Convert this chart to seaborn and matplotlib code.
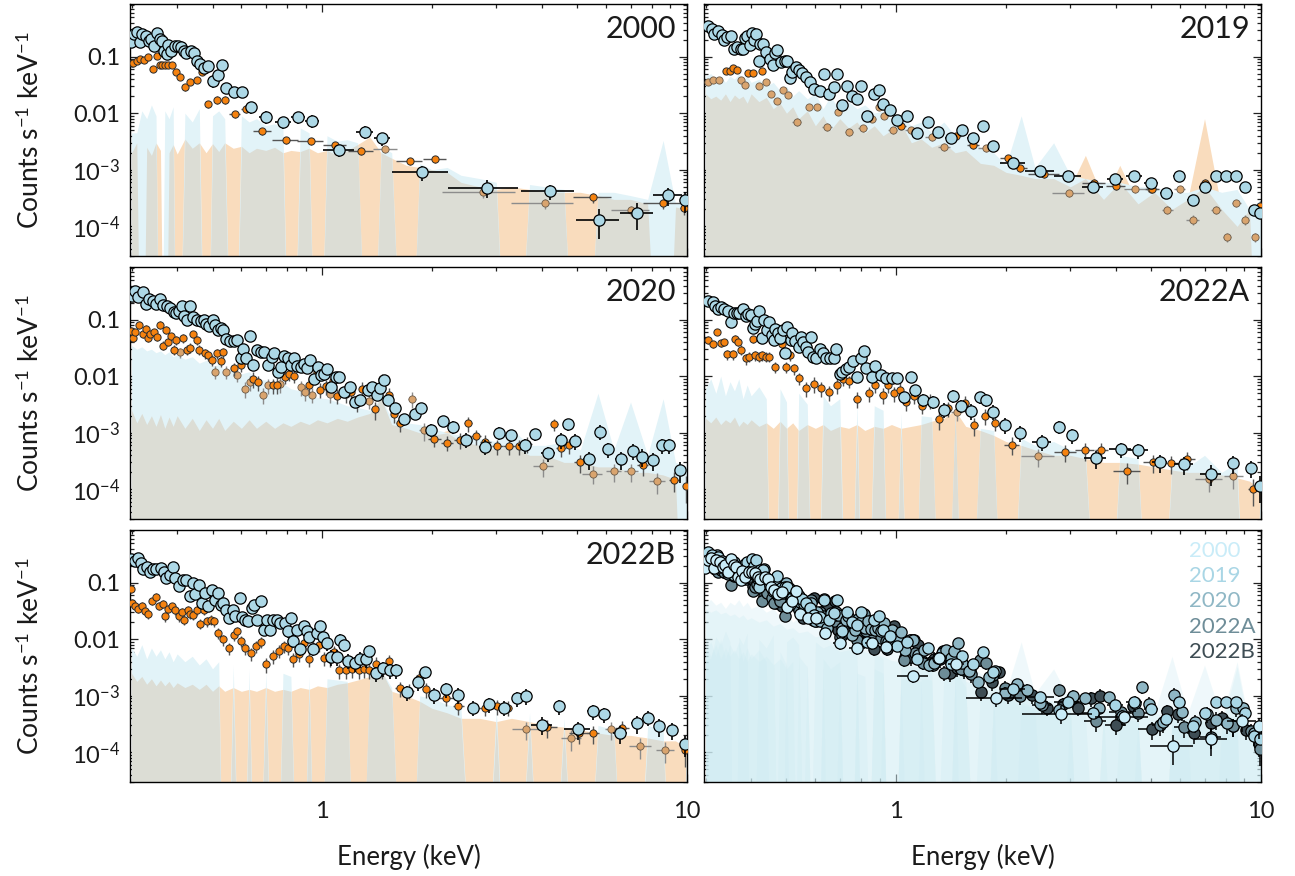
import numpy as np
import matplotlib
matplotlib.use("Agg")
import matplotlib.pyplot as plt
import seaborn as sns
from matplotlib.ticker import FixedLocator, LogLocator, NullFormatter

sns.set_theme(style="ticks")
plt.rcParams["font.family"] = ["Lato", "DejaVu Sans"]
plt.rcParams["mathtext.fontset"] = "custom"
plt.rcParams["mathtext.rm"] = "Lato"
plt.rcParams["mathtext.it"] = "Lato:italic"
plt.rcParams["mathtext.bf"] = "Lato:bold"

# ---------------------------------------------------------------------------
# Spectra: rows of (energy keV, rate cts/s/keV, bin half-width keV, fractional error)
# ---------------------------------------------------------------------------
YEARS = ["2000", "2019", "2020", "2022A", "2022B"]

PN_2000 = [
    (0.299, 0.178, .004, .12), (0.305, 0.250, .003, .10), (0.310, 0.275, .003, .10), (0.316, 0.178, .003, .12),
    (0.321, 0.250, .003, .10), (0.328, 0.234, .003, .10), (0.334, 0.191, .003, .12), (0.340, 0.204, .003, .10),
    (0.345, 0.155, .003, .14), (0.352, 0.257, .003, .10), (0.358, 0.204, .003, .10), (0.364, 0.191, .003, .12),
    (0.368, 0.126, .003, .14), (0.375, 0.110, .004, .15), (0.378, 0.159, .003, .12), (0.385, 0.126, .004, .12),
    (0.394, 0.155, .004, .12), (0.403, 0.155, .004, .12), (0.411, 0.145, .004, .12), (0.418, 0.126, .004, .14),
    (0.423, 0.118, .004, .14), (0.437, 0.126, .006, .14), (0.444, 0.118, .004, .14), (0.452, 0.0837, .005, .15),
    (0.461, 0.073, .005, .15), (0.474, 0.0636, .006, .16), (0.487, 0.0681, .006, .16), (0.502, 0.0378, .007, .25),
    (0.517, 0.0464, .007, .22), (0.532, 0.071, .007, .18), (0.544, 0.028, .008, .22), (0.572, 0.0234, .012, .2),
    (0.603, 0.0234, .014, .2), (0.639, 0.0128, .018, .25), (0.700, 0.0087, .03, .25), (0.780, 0.0069, .04, .25),
    (0.857, 0.00847, .037, .25), (0.938, 0.0074, .04, .25), (1.114, 0.00222, .11, .25), (1.311, 0.0047, .07, .25),
    (1.461, 0.00358, .075, .25), (1.881, 0.000897, .33, .3), (2.83, 0.000483, .62, .35), (4.20, 0.000415, .7, .3),
    (5.74, 0.000131, .78, .55), (7.30, 0.000172, .75, .5), (8.87, 0.000353, .8, .35), (9.9, 0.000291, .3, .4),
]
MOS1_2000 = [
    (0.300, 0.0781, .003, .1), (0.303, 0.0781, .003, .1), (0.310, 0.0837, .003, .1), (0.316, 0.0921, .003, .1),
    (0.324, 0.086, .003, .1), (0.332, 0.100, .003, .1), (0.343, 0.061, .004, .12), (0.352, 0.103, .003, .1),
    (0.358, 0.072, .003, .1), (0.364, 0.072, .003, .1), (0.370, 0.072, .003, .1), (0.377, 0.072, .003, .1),
    (0.388, 0.072, .004, .1), (0.397, 0.0532, .004, .12), (0.408, 0.0433, .005, .12), (0.420, 0.0288, .005, .15),
    (0.435, 0.0353, .006, .12), (0.452, 0.0383, .006, .12), (0.468, 0.0532, .006, .12), (0.487, 0.0145, .008, .15),
    (0.516, 0.0173, .01, .15), (0.541, 0.0173, .01, .15), (0.576, 0.00962, .02, .15), (0.617, 0.0120, .02, .15),
    (0.684, 0.00484, .04, .15), (0.795, 0.00334, .065, .15), (0.929, 0.00321, .075, .15), (1.084, 0.00272, .08, .15),
    (1.273, 0.00216, .1, .15), (1.736, 0.00143, .14, .15), (2.04, 0.00155, .15, .15), (5.53, 0.000328, .65, .2),
    (8.57, 0.000257, 1.0, .2), (9.84, 0.000211, .3, .25),
]
MOS2_2000 = [
    (1.488, 0.00231, .11, .15), (2.75, 0.000399, .62, .2), (4.08, 0.000258, .78, .2), (7.03, 0.000193, .85, .2),
]

PN_2019 = [
    (0.305, 0.343, .004, .08), (0.312, 0.308, .004, .08), (0.316, 0.251, .003, .08), (0.325, 0.287, .004, .08),
    (0.333, 0.240, .004, .08), (0.338, 0.198, .003, .08), (0.344, 0.218, .003, .08), (0.352, 0.234, .004, .08),
    (0.358, 0.139, .003, .1), (0.366, 0.145, .004, .1), (0.374, 0.135, .004, .1), (0.380, 0.139, .003, .1),
    (0.384, 0.210, .002, .08), (0.390, 0.234, .003, .08), (0.396, 0.162, .003, .1), (0.402, 0.261, .003, .08),
    (0.407, 0.198, .003, .08), (0.412, 0.251, .003, .08), (0.419, 0.0837, .003, .12), (0.422, 0.170, .002, .1),
    (0.432, 0.166, .004, .1), (0.440, 0.121, .004, .1), (0.451, 0.0921, .005, .12), (0.459, 0.0720, .004, .12),
    (0.466, 0.118, .004, .1), (0.471, 0.132, .003, .1), (0.482, 0.0803, .005, .12), (0.494, 0.0826, .005, .12),
    (0.501, 0.0826, .004, .12), (0.511, 0.0422, .005, .12), (0.519, 0.0532, .005, .12), (0.531, 0.0654, .006, .12),
    (0.541, 0.057, .005, .12), (0.553, 0.0518, .006, .12), (0.566, 0.0433, .006, .12), (0.579, 0.0358, .007, .12),
    (0.593, 0.0268, .008, .14), (0.618, 0.0243, .01, .14), (0.635, 0.0484, .008, .12), (0.653, 0.0218, .009, .14),
    (0.673, 0.0291, .01, .12), (0.688, 0.0484, .008, .12), (0.709, 0.0141, .012, .14), (0.732, 0.0299, .012, .12),
    (0.754, 0.0198, .012, .14), (0.781, 0.0178, .014, .14), (0.802, 0.0299, .012, .12), (0.831, 0.00896, .02, .15),
    (0.868, 0.0218, .02, .14), (0.896, 0.0261, .015, .12), (0.921, 0.0143, .015, .14), (0.960, 0.0115, .02, .14),
    (1.007, 0.0076, .03, .15), (1.069, 0.00896, .03, .15), (1.142, 0.0045, .04, .15), (1.224, 0.0070, .04, .15),
    (1.298, 0.0047, .04, .15), (1.410, 0.00367, .05, .15), (1.517, 0.00503, .05, .15), (1.626, 0.00372, .06, .15),
    (1.725, 0.00594, .05, .15), (1.842, 0.00261, .06, .15), (2.09, 0.00134, .17, .15), (2.48, 0.000962, .22, .15),
    (2.95, 0.000785, .25, .15), (3.46, 0.000489, .22, .15), (3.99, 0.00069, .2, .15), (4.49, 0.000785, .22, .15),
    (4.99, 0.000577, .22, .15), (5.50, 0.000393, .22, .15), (5.97, 0.000785, .22, .15), (6.49, 0.000295, .22, .15),
    (7.01, 0.000489, .25, .15), (7.54, 0.000785, .22, .15), (8.03, 0.000785, .2, .15), (8.56, 0.000785, .22, .15),
    (9.06, 0.000489, .2, .15), (9.55, 0.000196, .2, .2), (9.93, 0.000171, .1, .2),
]
MOS1_2019 = [
    (0.341, 0.0555, .004, .1), (0.350, 0.0555, .004, .1), (0.357, 0.0636, .004, .1), (0.365, 0.0578, .004, .1),
    (0.393, 0.0518, .005, .1), (0.404, 0.0518, .005, .1), (0.429, 0.0555, .006, .1), (1.033, 0.00594, .03, .12),
    (1.456, 0.0040, .05, .12), (1.626, 0.0027, .06, .12), (2.02, 0.00159, .1, .12), (2.18, 0.00106, .1, .12),
    (2.54, 0.00085, .25, .15), (3.49, 0.000589, .25, .15), (4.00, 0.000527, .25, .15), (5.03, 0.000459, .22, .15),
    (7.01, 0.000589, .2, .15), (9.93, 0.000232, .1, .2),
]
MOS2_2019 = [
    (0.304, 0.0353, .004, .1), (0.314, 0.0383, .004, .1), (0.327, 0.0383, .004, .1), (0.375, 0.0383, .004, .1),
    (0.384, 0.0321, .004, .1), (0.419, 0.0299, .005, .1), (0.440, 0.0353, .005, .1), (0.453, 0.0218, .005, .12),
    (0.472, 0.0162, .006, .12), (0.488, 0.0261, .006, .12), (0.505, 0.0207, .006, .12), (0.533, 0.00709, .015, .15),
    (0.577, 0.0128, .01, .12), (0.607, 0.0128, .01, .12), (0.647, 0.00578, .02, .15), (0.693, 0.0107, .015, .12),
    (0.743, 0.00463, .02, .15), (0.808, 0.00547, .025, .15), (0.860, 0.00784, .02, .12), (0.896, 0.0128, .015, .12),
    (0.927, 0.0091, .02, .12), (0.977, 0.00503, .03, .15), (1.096, 0.00503, .04, .15), (1.249, 0.00383, .05, .15),
    (1.353, 0.00254, .05, .15), (1.760, 0.0024, .08, .15), (2.98, 0.000389, .3, .15), (4.51, 0.000459, .3, .15),
    (5.00, 0.000459, .2, .15), (5.54, 0.000196, .2, .15), (5.99, 0.000459, .2, .15), (6.49, 0.00013, .25, .2),
    (7.54, 0.000196, .25, .15), (8.05, 0.000065, .2, .2), (8.56, 0.000258, .25, .15), (9.06, 0.00013, .2, .2),
    (9.6, 0.000065, .15, .2),
]

PN_2020 = [
    (0.300, 0.261, .003, .08), (0.307, 0.321, .003, .08), (0.313, 0.254, .003, .08), (0.322, 0.308, .004, .08),
    (0.328, 0.185, .003, .08), (0.335, 0.228, .003, .08), (0.343, 0.213, .004, .08), (0.350, 0.185, .004, .08),
    (0.359, 0.228, .004, .08), (0.365, 0.180, .003, .08), (0.374, 0.173, .004, .08), (0.382, 0.162, .004, .08),
    (0.391, 0.137, .004, .1), (0.397, 0.131, .003, .1), (0.404, 0.141, .004, .1), (0.412, 0.173, .004, .08),
    (0.418, 0.115, .003, .1), (0.425, 0.100, .004, .1), (0.435, 0.173, .004, .08), (0.443, 0.110, .004, .1),
    (0.454, 0.100, .005, .1), (0.464, 0.0934, .005, .1), (0.473, 0.100, .004, .1), (0.480, 0.0837, .004, .1),
    (0.488, 0.076, .004, .1), (0.500, 0.100, .005, .1), (0.509, 0.0814, .005, .1), (0.518, 0.0662, .005, .1),
    (0.527, 0.071, .005, .1), (0.535, 0.0662, .005, .1), (0.545, 0.0458, .005, .12), (0.557, 0.0421, .006, .12),
    (0.573, 0.0421, .007, .12), (0.584, 0.0439, .006, .12), (0.597, 0.0212, .006, .15), (0.608, 0.0303, .006, .12),
    (0.618, 0.0212, .006, .15), (0.632, 0.0504, .007, .12), (0.647, 0.0157, .007, .15), (0.662, 0.0291, .007, .12),
    (0.677, 0.0271, .007, .12), (0.693, 0.0271, .008, .12), (0.709, 0.0157, .008, .15), (0.726, 0.0221, .008, .12),
    (0.739, 0.0253, .007, .12), (0.754, 0.0119, .008, .15), (0.772, 0.0146, .009, .15), (0.786, 0.023, .008, .12),
    (0.804, 0.0206, .009, .12), (0.823, 0.0157, .01, .15), (0.838, 0.0212, .008, .12), (0.852, 0.0153, .008, .15),
    (0.872, 0.0146, .01, .15), (0.892, 0.0161, .01, .15), (0.906, 0.0137, .008, .15), (0.927, 0.0193, .01, .12),
    (0.949, 0.009, .012, .18), (0.971, 0.0144, .012, .15), (0.989, 0.0104, .01, .15), (1.011, 0.0111, .012, .15),
    (1.030, 0.0133, .012, .15), (1.059, 0.00641, .015, .18), (1.088, 0.0097, .015, .15), (1.109, 0.0097, .012, .15),
    (1.147, 0.00524, .02, .2), (1.188, 0.00641, .02, .18), (1.229, 0.00356, .02, .22), (1.272, 0.00387, .02, .2),
    (1.331, 0.00561, .03, .18), (1.369, 0.00641, .02, .18), (1.410, 0.0047, .02, .2), (1.443, 0.00617, .02, .18),
    (1.476, 0.0084, .02, .18), (1.511, 0.00387, .02, .2), (1.581, 0.00271, .04, .22), (1.675, 0.00175, .05, .25),
    (1.794, 0.00212, .05, .22), (1.869, 0.00271, .04, .2), (1.988, 0.00113, .06, .25), (2.14, 0.00163, .07, .22),
    (2.28, 0.00129, .07, .25), (2.48, 0.00076, .08, .3), (2.79, 0.00057, .1, .3), (3.05, 0.001, .1, .25),
    (3.29, 0.0009, .12, .25), (3.59, 0.00061, .15, .3), (3.83, 0.00094, .12, .25), (4.16, 0.00044, .18, .3),
    (4.52, 0.00075, .15, .3), (4.72, 0.00142, .08, .25), (4.94, 0.00072, .12, .3), (5.39, 0.00034, .2, .35),
    (5.77, 0.00105, .12, .3), (6.07, 0.00051, .15, .3), (6.58, 0.00034, .25, .35), (7.10, 0.00048, .2, .3),
    (7.53, 0.00038, .2, .35), (8.09, 0.00033, .25, .35), (8.52, 0.00061, .2, .3), (8.92, 0.00061, .2, .3),
    (9.55, 0.00022, .25, .4),
]
MOS1_2020 = [
    (0.298, 0.0636, .003, .15), (0.302, 0.047, .003, .15), (0.307, 0.0602, .003, .15), (0.315, 0.0814, .003, .15),
    (0.322, 0.0554, .003, .15), (0.328, 0.069, .003, .15), (0.333, 0.047, .003, .15), (0.338, 0.0554, .003, .15),
    (0.346, 0.0602, .004, .15), (0.353, 0.0483, .004, .15), (0.359, 0.0814, .003, .15), (0.366, 0.0348, .004, .18),
    (0.372, 0.0662, .003, .15), (0.378, 0.041, .004, .18), (0.385, 0.0504, .004, .15), (0.391, 0.0291, .004, .2),
    (0.398, 0.0439, .004, .18), (0.414, 0.047, .005, .18), (0.425, 0.0291, .005, .2), (0.435, 0.032, .005, .2),
    (0.441, 0.0554, .004, .15), (0.452, 0.0439, .005, .18), (0.459, 0.0291, .005, .2), (0.477, 0.0253, .006, .2),
    (0.486, 0.0236, .005, .2), (0.497, 0.0193, .006, .22), (0.515, 0.0253, .006, .2), (0.527, 0.0185, .006, .22),
    (0.535, 0.0264, .006, .2), (0.571, 0.0137, .008, .25), (0.597, 0.0157, .008, .25), (0.647, 0.009, .01, .3),
    (0.667, 0.0079, .01, .3), (0.731, 0.00686, .012, .3), (0.751, 0.00706, .012, .3), (0.790, 0.0097, .012, .25),
    (0.808, 0.0111, .01, .25), (0.838, 0.0101, .012, .25), (0.919, 0.00686, .015, .3), (0.966, 0.0119, .012, .25),
    (0.984, 0.00582, .012, .3), (1.023, 0.00658, .015, .3), (1.071, 0.00811, .015, .3), (1.096, 0.00456, .015, .3),
    (1.160, 0.00488, .02, .3), (1.201, 0.00536, .02, .3), (1.243, 0.00338, .02, .3), (1.287, 0.00598, .02, .3),
    (1.394, 0.00263, .03, .35), (1.459, 0.0088, .03, .25), (1.521, 0.0047, .03, .3), (1.574, 0.00214, .03, .3),
    (1.637, 0.00148, .04, .3), (2.03, 0.00079, .08, .3), (2.20, 0.00067, .08, .3), (2.38, 0.00075, .08, .3),
    (2.51, 0.00148, .06, .3), (2.64, 0.00087, .08, .3), (2.80, 0.00069, .1, .3), (3.02, 0.00058, .1, .3),
    (3.25, 0.00058, .12, .3), (3.47, 0.00058, .1, .3), (3.65, 0.00064, .1, .3), (4.33, 0.00142, .1, .25),
    (4.51, 0.00054, .15, .3), (4.75, 0.0006, .15, .3), (5.09, 0.0003, .2, .35), (7.56, 0.00027, .25, .35),
    (9.23, 0.000147, .3, .4), (9.95, 0.000115, .1, .5),
]
MOS2_2020 = [
    (0.407, 0.0264, .005, .2), (0.509, 0.0119, .006, .25), (0.545, 0.0119, .006, .25), (0.584, 0.0104, .007, .25),
    (0.614, 0.00598, .008, .3), (0.632, 0.0079, .008, .3), (0.688, 0.0047, .01, .3), (0.709, 0.00686, .01, .3),
    (0.765, 0.00735, .012, .3), (0.872, 0.00641, .012, .3), (0.896, 0.00524, .012, .3), (0.940, 0.00475, .015, .3),
    (1.047, 0.00488, .02, .3), (1.347, 0.00372, .03, .3), (1.763, 0.00398, .04, .3), (1.895, 0.00112, .05, .35),
    (4.03, 0.00026, .25, .35), (5.51, 0.00019, .35, .35), (6.31, 0.00021, .3, .35), (7.02, 0.00021, .3, .35),
    (8.28, 0.00014, .4, .4),
]

PN_2022A = [
    (0.305, 0.213, .003, .1), (0.314, 0.204, .004, .1), (0.319, 0.173, .003, .1), (0.325, 0.151, .003, .1),
    (0.331, 0.166, .003, .1), (0.338, 0.151, .004, .1), (0.346, 0.141, .004, .1), (0.352, 0.0896, .003, .12),
    (0.358, 0.131, .003, .1), (0.365, 0.131, .004, .1), (0.371, 0.131, .003, .1), (0.380, 0.151, .004, .1),
    (0.387, 0.115, .004, .12), (0.393, 0.126, .003, .1), (0.400, 0.120, .004, .12), (0.405, 0.071, .003, .15),
    (0.410, 0.0848, .003, .12), (0.416, 0.0934, .003, .12), (0.421, 0.141, .003, .1), (0.429, 0.047, .004, .15),
    (0.433, 0.100, .003, .12), (0.441, 0.0662, .004, .12), (0.449, 0.0908, .004, .12), (0.456, 0.0539, .004, .15),
    (0.461, 0.0439, .003, .15), (0.466, 0.069, .003, .12), (0.474, 0.0577, .004, .15), (0.480, 0.047, .004, .15),
    (0.488, 0.0662, .004, .12), (0.496, 0.026, .004, .18), (0.503, 0.0739, .004, .12), (0.514, 0.0439, .005, .15),
    (0.519, 0.0577, .004, .15), (0.528, 0.0421, .005, .15), (0.541, 0.0334, .006, .15), (0.547, 0.0483, .004, .15),
    (0.556, 0.041, .005, .15), (0.566, 0.0334, .005, .15), (0.573, 0.0271, .005, .18), (0.582, 0.0483, .005, .15),
    (0.590, 0.0221, .005, .18), (0.604, 0.0206, .007, .18), (0.618, 0.0303, .007, .15), (0.628, 0.0253, .006, .18),
    (0.643, 0.0206, .008, .18), (0.658, 0.0206, .008, .18), (0.673, 0.0206, .008, .18), (0.684, 0.0303, .006, .15),
    (0.700, 0.0111, .008, .2), (0.712, 0.0119, .007, .2), (0.726, 0.0133, .007, .2), (0.742, 0.0146, .008, .2),
    (0.760, 0.0185, .009, .18), (0.781, 0.0097, .01, .2), (0.799, 0.0206, .009, .18), (0.814, 0.0279, .008, .15),
    (0.827, 0.0141, .008, .2), (0.856, 0.0097, .012, .2), (0.876, 0.0153, .01, .18), (0.906, 0.0104, .012, .2),
    (0.938, 0.0093, .014, .2), (0.971, 0.0093, .015, .2), (1.005, 0.0093, .015, .2), (1.047, 0.00425, .02, .25),
    (1.096, 0.0096, .02, .2), (1.126, 0.00561, .015, .25), (1.185, 0.00387, .025, .25), (1.263, 0.00356, .03, .25),
    (1.353, 0.00256, .035, .3), (1.433, 0.00456, .03, .25), (1.500, 0.00302, .03, .25), (1.606, 0.00245, .04, .3),
    (1.694, 0.00425, .04, .25), (1.761, 0.00387, .03, .25), (1.843, 0.00236, .04, .3), (1.988, 0.00138, .06, .3),
    (2.19, 0.001, .07, .3), (2.51, 0.00069, .15, .3), (2.79, 0.00129, .08, .25), (3.04, 0.0009, .1, .3),
    (3.52, 0.00036, .25, .35), (4.12, 0.00051, .28, .3), (4.61, 0.00049, .3, .3), (5.29, 0.0003, .25, .35),
    (6.14, 0.00028, .35, .35), (7.29, 0.00019, .5, .4), (8.36, 0.00029, .3, .35), (9.39, 0.00024, .3, .35),
    (9.95, 0.000115, .1, .5),
]
MOS1_2022A = [
    (0.304, 0.0439, .003, .15), (0.314, 0.0367, .004, .15), (0.323, 0.0602, .004, .12), (0.330, 0.0383, .003, .15),
    (0.338, 0.0399, .004, .15), (0.344, 0.0243, .003, .2), (0.356, 0.0243, .004, .2), (0.362, 0.0458, .003, .15),
    (0.367, 0.041, .003, .15), (0.375, 0.0291, .004, .2), (0.386, 0.0206, .005, .22), (0.395, 0.0221, .004, .2),
    (0.404, 0.0451, .004, .15), (0.409, 0.0236, .003, .2), (0.419, 0.0221, .005, .2), (0.429, 0.0236, .005, .2),
    (0.439, 0.0221, .005, .2), (0.449, 0.0221, .005, .2), (0.466, 0.0146, .008, .22), (0.485, 0.0367, .008, .15),
    (0.500, 0.0146, .007, .22), (0.511, 0.0236, .006, .2), (0.523, 0.0137, .006, .22), (0.541, 0.0093, .008, .25),
    (0.564, 0.00617, .01, .3), (0.593, 0.00735, .012, .3), (0.621, 0.00617, .012, .3), (0.653, 0.00524, .014, .3),
    (0.688, 0.00686, .014, .3), (0.716, 0.0088, .012, .25), (0.742, 0.0081, .012, .25), (0.781, 0.00398, .02, .3),
    (0.840, 0.00502, .02, .3), (0.876, 0.00686, .015, .25), (0.917, 0.0047, .02, .3), (0.949, 0.00686, .015, .25),
    (0.986, 0.00502, .018, .3), (1.021, 0.00576, .018, .3), (1.064, 0.00347, .02, .3), (1.121, 0.00456, .025, .3),
    (1.179, 0.00302, .025, .3), (1.235, 0.00372, .025, .3), (1.307, 0.00175, .03, .35), (1.384, 0.00271, .03, .3),
    (1.542, 0.00338, .04, .3), (1.633, 0.00137, .04, .35), (1.753, 0.002, .05, .3), (1.865, 0.00152, .05, .3),
    (2.07, 0.00062, .1, .35), (2.91, 0.00046, .2, .35), (3.29, 0.00049, .2, .35), (3.65, 0.00049, .15, .35),
    (4.29, 0.00021, .37, .4), (5.05, 0.0003, .3, .35), (5.66, 0.00029, .25, .35), (6.28, 0.00034, .3, .35),
    (9.49, 0.000101, .3, .5),
]
MOS2_2022A = [
    (1.466, 0.00229, .05, .3), (2.45, 0.00039, .25, .35), (7.20, 0.00015, .6, .4), (8.40, 0.00017, .5, .4),
]

PN_2022B = [
    (0.299, 0.262, .003, .08), (0.306, 0.245, .003, .08), (0.313, 0.269, .003, .08), (0.318, 0.222, .003, .08),
    (0.323, 0.173, .003, .1), (0.331, 0.186, .004, .1), (0.337, 0.151, .003, .1), (0.343, 0.173, .003, .1),
    (0.351, 0.173, .004, .1), (0.361, 0.178, .004, .1), (0.367, 0.155, .003, .1), (0.373, 0.123, .003, .1),
    (0.382, 0.135, .004, .1), (0.390, 0.191, .004, .1), (0.395, 0.123, .003, .1), (0.404, 0.0872, .004, .12),
    (0.414, 0.113, .005, .12), (0.424, 0.110, .005, .12), (0.433, 0.0577, .004, .15), (0.441, 0.100, .004, .12),
    (0.448, 0.0635, .004, .15), (0.459, 0.0896, .005, .12), (0.469, 0.0438, .005, .15), (0.478, 0.0662, .004, .15),
    (0.486, 0.0393, .004, .15), (0.497, 0.0739, .005, .12), (0.509, 0.0503, .006, .15), (0.518, 0.0644, .005, .15),
    (0.527, 0.0409, .005, .15), (0.535, 0.0438, .004, .15), (0.543, 0.0324, .004, .18), (0.555, 0.0236, .006, .18),
    (0.568, 0.0324, .006, .18), (0.578, 0.0253, .005, .18), (0.594, 0.0539, .008, .15), (0.604, 0.0246, .005, .18),
    (0.614, 0.022, .005, .2), (0.625, 0.0206, .006, .2), (0.640, 0.0357, .007, .18), (0.649, 0.0409, .005, .15),
    (0.662, 0.022, .007, .2), (0.677, 0.0469, .008, .15), (0.693, 0.0146, .008, .22), (0.707, 0.022, .007, .2),
    (0.721, 0.0146, .007, .22), (0.734, 0.022, .007, .2), (0.751, 0.022, .008, .2), (0.768, 0.0197, .008, .2),
    (0.790, 0.0192, .01, .2), (0.804, 0.0137, .008, .22), (0.819, 0.0236, .008, .2), (0.833, 0.0094, .008, .25),
    (0.852, 0.0146, .01, .22), (0.870, 0.0066, .01, .25), (0.892, 0.0168, .01, .2), (0.906, 0.0137, .008, .22),
    (0.919, 0.0111, .008, .22), (0.944, 0.0066, .012, .25), (0.966, 0.0127, .012, .22), (0.984, 0.0172, .01, .2),
    (1.007, 0.0111, .012, .22), (1.030, 0.0084, .012, .25), (1.059, 0.0049, .015, .3), (1.096, 0.0049, .02, .3),
    (1.121, 0.0097, .015, .25), (1.147, 0.0079, .015, .25), (1.174, 0.0042, .015, .3), (1.229, 0.0038, .03, .3),
    (1.272, 0.0045, .02, .3), (1.316, 0.0044, .02, .3), (1.347, 0.0061, .02, .25), (1.400, 0.0025, .03, .3),
    (1.466, 0.0031, .03, .3), (1.535, 0.0028, .03, .3), (1.592, 0.0028, .03, .3), (1.705, 0.00115, .05, .3),
    (1.827, 0.00174, .05, .3), (1.912, 0.0026, .04, .25), (2.03, 0.00104, .05, .3), (2.19, 0.00132, .06, .3),
    (2.35, 0.00104, .06, .3), (2.59, 0.00062, .07, .3), (2.87, 0.00071, .08, .3), (3.14, 0.00062, .1, .3),
    (3.41, 0.00091, .1, .3), (3.63, 0.001, .1, .3), (4.00, 0.00031, .27, .35), (4.47, 0.00066, .15, .3),
    (5.01, 0.00026, .4, .35), (5.53, 0.00054, .2, .3), (5.92, 0.00047, .2, .3), (6.56, 0.00022, .3, .35),
    (7.29, 0.00033, .25, .35), (7.80, 0.00041, .25, .3), (8.36, 0.00029, .25, .35), (9.09, 0.00025, .3, .35),
    (9.9, 0.00014, .1, .4),
]
MOS1_2022B = [
    (0.298, 0.0781, .003, .15), (0.301, 0.0438, .002, .15), (0.306, 0.0393, .003, .15), (0.313, 0.0343, .003, .15),
    (0.320, 0.0393, .003, .15), (0.326, 0.0311, .003, .15), (0.333, 0.0282, .003, .18), (0.341, 0.0469, .004, .15),
    (0.351, 0.0561, .004, .15), (0.357, 0.0393, .003, .15), (0.365, 0.0427, .004, .15), (0.371, 0.0253, .003, .2),
    (0.378, 0.0343, .004, .15), (0.386, 0.0382, .004, .15), (0.395, 0.0324, .004, .18), (0.404, 0.0253, .004, .2),
    (0.412, 0.0298, .004, .18), (0.418, 0.022, .003, .2), (0.428, 0.0324, .005, .18), (0.435, 0.0282, .004, .18),
    (0.443, 0.0271, .004, .18), (0.454, 0.0324, .005, .18), (0.462, 0.0187, .004, .2), (0.473, 0.0324, .005, .18),
    (0.484, 0.0206, .005, .2), (0.495, 0.022, .005, .2), (0.506, 0.0206, .005, .2), (0.518, 0.0127, .006, .22),
    (0.535, 0.0099, .008, .22), (0.555, 0.0069, .01, .25), (0.571, 0.0119, .008, .22), (0.584, 0.0137, .007, .2),
    (0.597, 0.0094, .007, .22), (0.614, 0.0069, .009, .25), (0.637, 0.0056, .011, .25), (0.658, 0.0075, .01, .25),
    (0.677, 0.009, .01, .22), (0.701, 0.0036, .012, .3), (0.734, 0.005, .015, .28), (0.760, 0.0062, .012, .25),
    (0.783, 0.0075, .012, .25), (0.804, 0.007, .01, .25), (0.833, 0.0044, .014, .28), (0.862, 0.0054, .014, .28),
    (0.892, 0.0084, .014, .25), (0.919, 0.0044, .012, .28), (0.944, 0.0073, .012, .25), (0.977, 0.0079, .015, .25),
    (1.012, 0.0047, .017, .28), (1.047, 0.0044, .017, .28), (1.079, 0.006, .015, .25), (1.109, 0.0028, .015, .3),
    (1.160, 0.0028, .025, .3), (1.209, 0.003, .025, .3), (1.257, 0.0028, .02, .3), (1.302, 0.003, .02, .3),
    (1.347, 0.0028, .02, .3), (1.400, 0.0037, .025, .3), (1.459, 0.0028, .03, .3), (1.521, 0.0041, .03, .3),
    (1.629, 0.00137, .05, .3), (1.733, 0.00123, .05, .3), (1.836, 0.00207, .05, .3), (1.922, 0.00132, .04, .3),
    (2.18, 0.00093, .1, .3), (2.36, 0.00066, .08, .3), (2.80, 0.00062, .15, .3), (3.02, 0.00066, .1, .3),
    (3.22, 0.00062, .1, .3), (4.14, 0.00028, .25, .35), (5.06, 0.00022, .3, .35), (5.53, 0.00022, .2, .35),
    (6.65, 0.00027, .3, .35), (9.9, 0.00011, .1, .5),
]
MOS2_2022B = [
    (3.62, 0.00026, .3, .35), (4.81, 0.00018, .3, .4), (6.19, 0.00026, .25, .35), (7.45, 0.00013, .5, .4),
    (8.72, 0.00011, .5, .4),
]

# ---------------------------------------------------------------------------
# Background spectra (cts/s/keV) on a common energy grid; 0 = no net counts
# ---------------------------------------------------------------------------
BG_ENERGY = [0.30, 0.31, 0.32, 0.33, 0.34, 0.35, 0.36, 0.37, 0.38, 0.39, 0.40, 0.42, 0.44, 0.46, 0.48,
             0.50, 0.52, 0.54, 0.57, 0.60, 0.63, 0.66, 0.70, 0.74, 0.78, 0.82, 0.87, 0.92, 0.97, 1.03,
             1.10, 1.17, 1.25, 1.35, 1.45, 1.55, 1.70, 1.85, 2.0, 2.2, 2.4, 2.7, 3.0, 3.3, 3.7,
             4.1, 4.6, 5.1, 5.7, 6.3, 7.0, 7.8, 8.6, 9.3, 10.0]

BG_PN_2000 = [0.0045, 0.0045, 0.011, 0.008, 0.014, 0.009, 0.0, 0.011, 0.008, 0.013, 0.0, 0.010, 0.007, 0.012, 0.0,
              0.009, 0.011, 0.008, 0.0, 0.009, 0.007, 0.008, 0.006, 0.0065, 0.0055, 0.0, 0.0055, 0.0045, 0.0, 0.004,
              0.0032, 0.0034, 0.003, 0.0, 0.0026, 0.002, 0.0, 0.0013, 0.001, 0.0011, 0.0008, 0.0007, 0.0006, 0.0, 0.00055,
              0.0005, 0.00045, 0.0, 0.0004, 0.0004, 0.00035, 0.0003, 0.0033, 0.00025, 0.0003]
BG_MOS_2000 = [0.002, 0.003, 0.0, 0.0025, 0.0018, 0.003, 0.0022, 0.0, 0.002, 0.0028, 0.0019, 0.0035, 0.0024, 0.003, 0.002,
               0.0029, 0.0021, 0.003, 0.0024, 0.0026, 0.002, 0.0024, 0.0022, 0.0025, 0.002, 0.0022, 0.0021, 0.0024, 0.002, 0.0022,
               0.0018, 0.0022, 0.0028, 0.0038, 0.002, 0.0016, 0.0012, 0.0011, 0.0010, 0.0009, 0.0006, 0.0005, 0.00045, 0.0005, 0.00045,
               0.0004, 0.0004, 0.0004, 0.00035, 0.0003, 0.0003, 0.00025, 0.0, 0.00022, 0.0002]

BG_PN_2019 = [0.045, 0.05, 0.04, 0.045, 0.035, 0.045, 0.04, 0.05, 0.038, 0.045, 0.035, 0.04, 0.03, 0.035, 0.025,
              0.03, 0.02, 0.025, 0.018, 0.022, 0.012, 0.02, 0.011, 0.016, 0.012, 0.014, 0.01, 0.011, 0.008, 0.009,
              0.006, 0.007, 0.0045, 0.007, 0.004, 0.004, 0.0025, 0.002, 0.0012, 0.009, 0.0011, 0.003, 0.0008, 0.0007, 0.0006,
              0.0006, 0.0005, 0.0005, 0.0004, 0.0004, 0.0005, 0.0004, 0.00045, 0.0002, 0.0003]
BG_MOS_2019 = [0.022, 0.018, 0.02, 0.017, 0.022, 0.016, 0.021, 0.018, 0.02, 0.015, 0.022, 0.016, 0.019, 0.012, 0.015,
               0.01, 0.013, 0.008, 0.011, 0.006, 0.009, 0.005, 0.008, 0.0055, 0.007, 0.0045, 0.006, 0.004, 0.005, 0.0065,
               0.003, 0.0035, 0.0025, 0.003, 0.002, 0.0022, 0.0013, 0.0012, 0.0009, 0.0008, 0.0007, 0.0007, 0.0005, 0.0018, 0.0003,
               0.0012, 0.00025, 0.0004, 0.0002, 0.0003, 0.008, 0.0002, 0.0001, 0.0002, 0.0]

BG_PN_2020 = [0.035, 0.03, 0.033, 0.028, 0.03, 0.026, 0.028, 0.024, 0.027, 0.022, 0.024, 0.02, 0.022, 0.017, 0.019,
              0.015, 0.016, 0.013, 0.014, 0.011, 0.012, 0.009, 0.0085, 0.007, 0.0075, 0.006, 0.0055, 0.005, 0.0042, 0.004,
              0.0035, 0.003, 0.0028, 0.0025, 0.004, 0.0018, 0.0015, 0.0014, 0.0012, 0.001, 0.0009, 0.0008, 0.0007, 0.0012, 0.0006,
              0.0006, 0.0007, 0.0005, 0.005, 0.0005, 0.0035, 0.0004, 0.004, 0.0003, 0.00025]
BG_MOS_2020 = [0.0025, 0.0015, 0.0022, 0.0014, 0.002, 0.0013, 0.0021, 0.0012, 0.0019, 0.0013, 0.002, 0.0012, 0.0018, 0.0011, 0.0017,
               0.0012, 0.0018, 0.0011, 0.0016, 0.0012, 0.0017, 0.0012, 0.0016, 0.0012, 0.0015, 0.0013, 0.0016, 0.0014, 0.0017, 0.0015,
               0.0018, 0.0016, 0.0019, 0.0022, 0.0042, 0.0014, 0.0012, 0.0010, 0.0009, 0.0011, 0.0007, 0.0006, 0.0005, 0.0006, 0.0004,
               0.0004, 0.0003, 0.0003, 0.00025, 0.00025, 0.0002, 0.0002, 0.00018, 0.00015, 0.0]

BG_PN_2022A = [0.006, 0.009, 0.005, 0.01, 0.0045, 0.008, 0.0055, 0.009, 0.004, 0.007, 0.0045, 0.0065, 0.004, 0.0, 0.006,
               0.0035, 0.0, 0.005, 0.0032, 0.0, 0.0045, 0.003, 0.004, 0.0, 0.0035, 0.0, 0.003, 0.0025, 0.0, 0.0022,
               0.0, 0.002, 0.0019, 0.0, 0.0022, 0.0, 0.0012, 0.0011, 0.0, 0.0008, 0.0006, 0.0007, 0.0005, 0.00045, 0.0,
               0.0004, 0.00035, 0.0, 0.0003, 0.00025, 0.0004, 0.0002, 0.0003, 0.0, 0.0002]
BG_MOS_2022A = [0.0018, 0.0015, 0.0019, 0.0014, 0.0017, 0.0015, 0.0019, 0.0013, 0.0016, 0.0014, 0.0017, 0.0013, 0.0015, 0.0012, 0.0016,
                0.0012, 0.0015, 0.0011, 0.0014, 0.0012, 0.0014, 0.0011, 0.0013, 0.0012, 0.0014, 0.0011, 0.0013, 0.0012, 0.0014, 0.0012,
                0.0013, 0.0014, 0.0016, 0.0018, 0.0025, 0.0013, 0.0011, 0.0009, 0.0007, 0.0006, 0.0005, 0.0004, 0.0004, 0.00035, 0.0003,
                0.0003, 0.00028, 0.00025, 0.00022, 0.0002, 0.0002, 0.00018, 0.00016, 0.00014, 0.0001]

BG_PN_2022B = [0.007, 0.005, 0.008, 0.0045, 0.007, 0.005, 0.0065, 0.0045, 0.006, 0.004, 0.0055, 0.004, 0.005, 0.0035, 0.0045,
               0.003, 0.004, 0.0, 0.0035, 0.0, 0.003, 0.0, 0.0028, 0.0, 0.0025, 0.0022, 0.0, 0.0022, 0.0, 0.002,
               0.0019, 0.0018, 0.0, 0.0022, 0.0028, 0.0014, 0.0, 0.001, 0.0009, 0.0007, 0.0006, 0.0, 0.0006, 0.0, 0.0005,
               0.0, 0.0004, 0.0, 0.0003, 0.00025, 0.0, 0.0003, 0.00025, 0.0, 0.0002]
BG_MOS_2022B = [0.0025, 0.0018, 0.0022, 0.0016, 0.002, 0.0015, 0.0019, 0.0015, 0.0018, 0.0014, 0.0017, 0.0014, 0.0016, 0.0013, 0.0016,
                0.0012, 0.0015, 0.0012, 0.0014, 0.0012, 0.0013, 0.0012, 0.0014, 0.0012, 0.0013, 0.0012, 0.0014, 0.0013, 0.0015, 0.0014,
                0.0016, 0.0017, 0.0019, 0.0022, 0.003, 0.0012, 0.001, 0.0008, 0.0006, 0.0005, 0.0004, 0.0004, 0.00035, 0.0004, 0.00035,
                0.0003, 0.00028, 0.00025, 0.00022, 0.0002, 0.0002, 0.00018, 0.00016, 0.00016, 0.00012]

PN = {"2000": PN_2000, "2019": PN_2019, "2020": PN_2020, "2022A": PN_2022A, "2022B": PN_2022B}
MOS1 = {"2000": MOS1_2000, "2019": MOS1_2019, "2020": MOS1_2020, "2022A": MOS1_2022A, "2022B": MOS1_2022B}
MOS2 = {"2000": MOS2_2000, "2019": MOS2_2019, "2020": MOS2_2020, "2022A": MOS2_2022A, "2022B": MOS2_2022B}
BG_PN = {"2000": BG_PN_2000, "2019": BG_PN_2019, "2020": BG_PN_2020, "2022A": BG_PN_2022A, "2022B": BG_PN_2022B}
BG_MOS = {"2000": BG_MOS_2000, "2019": BG_MOS_2019, "2020": BG_MOS_2020, "2022A": BG_MOS_2022A, "2022B": BG_MOS_2022B}

# ---------------------------------------------------------------------------
# Style
# ---------------------------------------------------------------------------
PN_FACE = "#add8e6"
MOS1_FACE = "#f5820f"
MOS2_FACE = "#d9a46e"
ICE = "#e2f3f8"
PEACH = "#f9dcbd"
GREY = "#dcddd5"
YEAR_SHADES = ["#c9ecf8", "#a9d6e5", "#8fb7c5", "#6e8d98", "#3e4d54"]
FLOOR = 1e-9
XLIM = (0.297, 10.0)
YLIM = (3.0e-5, 0.85)
PN_SIZE = 66
MOS_SIZE = 27
TEXT_COLOR = "#1a1a1a"


def unpack(rows):
    e, r, de, f = np.array(rows, dtype=float).T
    return e, r, de, f * r


def draw_background(ax, pn_bg, mos_bg):
    x = np.asarray(BG_ENERGY)
    pn = np.where(np.asarray(pn_bg) > 0, pn_bg, FLOOR)
    mos = np.where(np.asarray(mos_bg) > 0, mos_bg, FLOOR)
    ax.fill_between(x, FLOOR, mos, color=PEACH, lw=0, zorder=1.0)
    ax.fill_between(x, FLOOR, pn, color=ICE, lw=0, zorder=1.1)
    ax.fill_between(x, FLOOR, np.minimum(pn, mos), color=GREY, lw=0, zorder=1.2)


def draw_spectrum(ax, rows, face, edge, size, ecolor, elw, lw, z):
    e, r, de, dr = unpack(rows)
    ax.errorbar(e, r, xerr=de, yerr=dr, fmt="none", ecolor=ecolor,
                elinewidth=elw, capsize=0, zorder=z)
    sns.scatterplot(x=e, y=r, ax=ax, s=size, color=face, edgecolor=edge,
                    linewidth=lw, zorder=z + 0.1, legend=False)


fig, axes = plt.subplots(3, 2, figsize=(12.95, 8.76), dpi=100)
fig.subplots_adjust(left=130 / 1295, right=1261 / 1295, top=1 - 4 / 876,
                    bottom=1 - 782 / 876, wspace=0.0305, hspace=0.0437)

panel_axes = [axes[0, 0], axes[0, 1], axes[1, 0], axes[1, 1], axes[2, 0]]

for ax in axes.flat:
    ax.set_xscale("log")
    ax.set_yscale("log")
    ax.set_xlim(*XLIM)
    ax.set_ylim(*YLIM)

for ax, year in zip(panel_axes, YEARS):
    draw_background(ax, BG_PN[year], BG_MOS[year])
    draw_spectrum(ax, MOS2[year], MOS2_FACE, "#6b5a48", MOS_SIZE, "#8c8c8c", 1.0, 0.6, 3)
    draw_spectrum(ax, MOS1[year], MOS1_FACE, "#2b2b2b", MOS_SIZE, "#555555", 1.0, 0.7, 4)
    draw_spectrum(ax, PN[year], PN_FACE, "black", PN_SIZE, "black", 1.2, 0.9, 5)
    ax.text(0.98, 0.867, year, transform=ax.transAxes, ha="right", va="baseline",
            fontsize=22, color=TEXT_COLOR, zorder=10)

# Combined panel: all EPIC-pn spectra together
comb = axes[2, 1]
for year in YEARS:
    bg = np.asarray(BG_PN[year])
    comb.fill_between(BG_ENERGY, FLOOR, np.where(bg > 0, bg, FLOOR),
                      color="#cdebf2", alpha=0.3, lw=0, zorder=1)
for i in range(len(YEARS) - 1, -1, -1):
    year = YEARS[i]
    draw_spectrum(comb, PN[year], YEAR_SHADES[i], "black", PN_SIZE, "black", 1.1, 0.9,
                  3 + (len(YEARS) - i))
legend_y = [0.893, 0.794, 0.694, 0.591, 0.492]
for year, shade, y in zip(YEARS, YEAR_SHADES, legend_y):
    comb.text(0.871, y, year, transform=comb.transAxes, ha="left", va="baseline",
              fontsize=16, color=shade, zorder=10)

# Axes styling
for r in range(3):
    for c in range(2):
        ax = axes[r, c]
        for sp in ax.spines.values():
            sp.set_color("black")
            sp.set_linewidth(1.0)
        ax.tick_params(which="both", direction="in", top=True, right=True,
                       color="#222222", width=0.9, labelsize=17, labelcolor=TEXT_COLOR, zorder=12)
        ax.tick_params(which="major", length=6)
        ax.tick_params(which="minor", length=3)
        ax.xaxis.set_major_locator(FixedLocator([1, 10]))
        ax.xaxis.set_minor_locator(LogLocator(base=10, subs=np.arange(2, 10), numticks=20))
        ax.xaxis.set_minor_formatter(NullFormatter())
        ax.yaxis.set_major_locator(FixedLocator([1e-4, 1e-3, 1e-2, 1e-1]))
        ax.yaxis.set_minor_locator(LogLocator(base=10, subs=np.arange(2, 10), numticks=20))
        ax.yaxis.set_minor_formatter(NullFormatter())
        ax.set_xticklabels(["1", "10"] if r == 2 else ["", ""])
        ax.set_yticklabels([r"$10^{-4}$", r"$10^{-3}$", "0.01", "0.1"] if c == 0 else [""] * 4)
        ax.tick_params(axis="x", pad=14)
        ax.tick_params(axis="y", pad=7)
        ax.set_xlabel("")
        ax.set_ylabel("")
        ax.set_xlim(*XLIM)
        ax.set_ylim(*YLIM)

for r in range(3):
    pos = axes[r, 0].get_position()
    fig.text(30 / 1295, (pos.y0 + pos.y1) / 2, r"Counts s$^{-1}$ keV$^{-1}$",
             rotation=90, ha="center", va="center", fontsize=19, color=TEXT_COLOR)
for c in range(2):
    pos = axes[2, c].get_position()
    fig.text((pos.x0 + pos.x1) / 2, 1 - 857 / 876, "Energy (keV)",
             ha="center", va="center", fontsize=18.5, color=TEXT_COLOR)

fig.savefig("out.png", dpi=100, facecolor="white")
